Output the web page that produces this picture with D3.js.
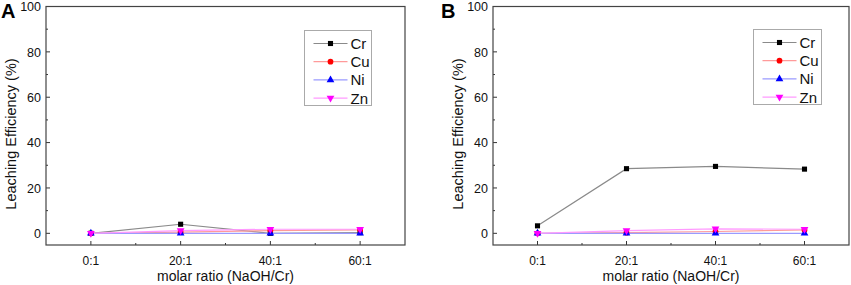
<!DOCTYPE html>
<html><head><meta charset="utf-8">
<script src="https://cdn.jsdelivr.net/npm/d3@7"></script>
<style>
body{margin:0;background:#fff;}
svg{display:block;font-family:"Liberation Sans",Arial,sans-serif;}
</style></head>
<body>
<svg id="c" width="851" height="285"></svg>
<script>
const categories = ["0:1","20:1","40:1","60:1"];
const xValues = [0,20,40,60];
const yTicks = [0,20,40,60,80,100];
const seriesNames = ["Cr","Cu","Ni","Zn"];
const crA = [0, 4.0, 0.0, 0.3];
const cuA = [0, 0.5, 1.2, 1.5];
const niA = [0, 0.0, 0.0, 0.0];
const znA = [0, 1.2, 1.8, 1.8];
const crB = [3.3, 28.5, 29.5, 28.3];
const cuB = [0, 0.3, 0.8, 1.5];
const niB = [0, 0.0, 0.0, 0.0];
const znB = [0, 1.2, 2.0, 1.8];

const styles = {
  Cr:{line:"#8a8a8a", fill:"#000000", sym:d3.symbolSquare},
  Cu:{line:"#ff9a9a", fill:"#ff0000", sym:d3.symbolCircle},
  Ni:{line:"#9a9aff", fill:"#0000ff", sym:d3.symbolTriangle},
  Zn:{line:"#ff9aff", fill:"#ff00ff", sym:"down"}
};
const symSize = 26;
function markerPath(name){
  const s = styles[name];
  if (s.sym === "down") return d3.symbol(d3.symbolTriangle, symSize)();
  return d3.symbol(s.sym, symSize)();
}

const svg = d3.select("#c");

function panel(cfg){
  const {left,right,top,bottom,letter,letterX,data,legX,legY,legW,legH} = cfg;
  const g = svg.append("g");
  const x = d3.scaleLinear().domain([-10,70]).range([left,right]);
  const y = d3.scaleLinear().domain([-5.15,100]).range([bottom,top]);

  // ticks (inward)
  [0,20,40,60].forEach(v=>{
    g.append("line").attr("x1",x(v)).attr("x2",x(v)).attr("y1",bottom).attr("y2",bottom-4).attr("stroke","#333");
  });
  [10,30,50].forEach(v=>{
    g.append("line").attr("x1",x(v)).attr("x2",x(v)).attr("y1",bottom).attr("y2",bottom-2).attr("stroke","#333");
  });
  yTicks.forEach(v=>{
    g.append("line").attr("x1",left).attr("x2",left+4).attr("y1",y(v)).attr("y2",y(v)).attr("stroke","#333");
  });
  [10,30,50,70,90].forEach(v=>{
    g.append("line").attr("x1",left).attr("x2",left+2).attr("y1",y(v)).attr("y2",y(v)).attr("stroke","#333");
  });

  // tick labels
  g.selectAll(".yl").data(yTicks).enter().append("text")
    .attr("x",left-5).attr("y",d=>y(d)).attr("dy","0.38em")
    .attr("text-anchor","end").attr("font-size",12.5).attr("fill","#111").text(d=>d);
  g.selectAll(".xl").data(categories).enter().append("text")
    .attr("x",(d,i)=>x(xValues[i])).attr("y",bottom+20)
    .attr("text-anchor","middle").attr("font-size",12).attr("fill","#111").text(d=>d);

  // axis titles
  g.append("text").attr("x",(left+right)/2).attr("y",bottom+36)
    .attr("text-anchor","middle").attr("font-size",14).attr("fill","#111").text("molar ratio (NaOH/Cr)");
  g.append("text").attr("transform",`translate(${left-30},134) rotate(-90)`)
    .attr("text-anchor","middle").attr("font-size",14.5).attr("fill","#111").text("Leaching Efficiency (%)");

  // panel letter
  g.append("text").attr("x",letterX).attr("y",18).attr("font-size",20).attr("font-weight","bold")
    .attr("fill","#000").text(letter);

  // series
  const line = d3.line().x((d,i)=>x(xValues[i])).y(d=>y(d));
  const order = ["Cr","Cu","Ni","Zn"];
  order.forEach(n=>{
    g.append("path").attr("d",line(data[n])).attr("fill","none")
      .attr("stroke",styles[n].line).attr("stroke-width",1.2);
  });
  order.forEach(n=>{
    data[n].forEach((v,i)=>{
      const rot = styles[n].sym==="down" ? " rotate(180)" : "";
      g.append("path").attr("d",markerPath(n))
        .attr("transform",`translate(${x(xValues[i])},${y(v)})${rot}`)
        .attr("fill",styles[n].fill);
    });
  });

  // frame
  g.append("rect").attr("x",left).attr("y",top).attr("width",right-left).attr("height",bottom-top)
    .attr("fill","none").attr("stroke","#444").attr("stroke-width",1.2);

  // legend
  const lg = g.append("g");
  lg.append("rect").attr("x",legX).attr("y",legY).attr("width",legW).attr("height",legH)
    .attr("fill","#fff").attr("stroke","#aaa").attr("stroke-width",1);
  seriesNames.forEach((n,i)=>{
    const yy = legY+13+i*18.2;
    lg.append("line").attr("x1",legX+9).attr("x2",legX+43).attr("y1",yy).attr("y2",yy)
      .attr("stroke",styles[n].line).attr("stroke-width",1.2);
    const rot = styles[n].sym==="down" ? " rotate(180)" : "";
    lg.append("path").attr("d",markerPath(n)).attr("transform",`translate(${legX+26},${yy})${rot}`)
      .attr("fill",styles[n].fill);
    lg.append("text").attr("x",legX+46).attr("y",yy).attr("dy","0.36em")
      .attr("font-size",15).attr("fill","#111").text(n);
  });
}

panel({left:46,right:405,top:6.5,bottom:245,letter:"A",letterX:1,
  data:{Cr:crA,Cu:cuA,Ni:niA,Zn:znA},legX:304.5,legY:30.5,legW:67,legH:75});
panel({left:493,right:849,top:6.5,bottom:245,letter:"B",letterX:441,
  data:{Cr:crB,Cu:cuB,Ni:niB,Zn:znB},legX:753.5,legY:29.5,legW:68,legH:75});
</script>
</body></html>
